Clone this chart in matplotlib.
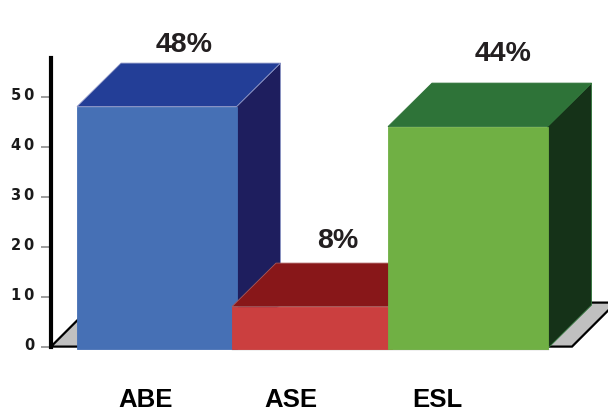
import matplotlib
matplotlib.use("Agg")
import matplotlib.pyplot as plt
from matplotlib.patches import Polygon
from matplotlib.transforms import ScaledTranslation

categories = ["ABE", "ASE", "ESL"]
values = [48, 8, 44]
value_labels = ["48%", "8%", "44%"]
tick_values = [0, 10, 20, 30, 40, 50]
tick_labels = ["0", "1\u20090", "2\u20090", "3\u20090", "4\u20090", "5\u20090"]

front = ["#4670b5", "#cb3f3f", "#70b044"]
top = ["#233e97", "#881719", "#2e7338"]
side = ["#1e1e5e", "#5c1012", "#153218"]
edge = ["#8a93c4", "#a85a5a", "#2e7338"]

W, H = 608, 411
X0, Y0, YTOP = 51, 346.6, 58    # axes box in pixels
PX = 5.0                        # pixels per value unit
fig = plt.figure(figsize=(W / 100, H / 100), dpi=100, facecolor="white")
ax = fig.add_axes([X0 / W, 1 - Y0 / H, (W - X0) / W, (Y0 - YTOP) / H])
ax.set_xlim(X0, W)
ax.set_ylim(0, (Y0 - YTOP) / PX)

depth_x, depth_y = 44, 43.5 / PX
base = -0.4
bar_w = 159.5
lefts = [77, 232, 388]
label_x = [184, 338, 503]
label_gap = [3.7, 4.5, 5.9]
cat_x = [146, 291, 437]


def poly(pts, color, ec=None, z=2, lw=0.6):
    ax.add_patch(Polygon(pts, closed=True, facecolor=color, edgecolor=ec or color,
                         linewidth=lw, zorder=z, clip_on=False, joinstyle="miter"))


# floor
poly([(X0, 0), (X0 + 44, 44 / PX), (616, 44 / PX), (572, 0)], "#c0c0c0", "black", z=1, lw=1.6)

# boxes
for i, v in enumerate(values):
    l, r = lefts[i], lefts[i] + bar_w
    z = 2 + i
    poly([(r, base), (r + depth_x, base + depth_y), (r + depth_x, v + depth_y), (r, v)], side[i], edge[i], z)
    poly([(l, v), (l + depth_x, v + depth_y), (r + depth_x, v + depth_y), (r, v)], top[i], edge[i], z)
    poly([(l, base), (l, v), (r, v), (r, base)], front[i], front[i], z + 0.5)
    ax.text(label_x[i], v + depth_y + label_gap[i], value_labels[i], ha="center", va="center",
            fontsize=20.5, fontweight="bold", family="Liberation Sans", color="#231f20",
            clip_on=False, zorder=8)
    ax.text(cat_x[i], -10.7, categories[i], ha="center", va="center",
            fontsize=18.5, fontweight="bold", family="Liberation Sans", color="black",
            clip_on=False, zorder=8)

ax.plot([lefts[1], lefts[2] + bar_w], [base - 0.1, base - 0.1], color="#b5b5b5", lw=1, zorder=1.5, clip_on=False)

for s in ["top", "right", "bottom"]:
    ax.spines[s].set_visible(False)
ax.spines["left"].set_linewidth(3)
ax.spines["left"].set_color("black")
ax.set_xticks([])
ax.set_yticks(tick_values)
ax.set_yticklabels(tick_labels, fontsize=10.5, fontweight="bold", family="DejaVu Sans", color="#1a1a1a")
ax.tick_params(axis="y", length=7.5, width=1.2, color="#8c8c8c", pad=4.5)
shift = ScaledTranslation(0, 3 / 100, fig.dpi_scale_trans)
for lab in ax.get_yticklabels():
    lab.set_transform(lab.get_transform() + shift)

fig.savefig("out.png", dpi=100, facecolor="white")
